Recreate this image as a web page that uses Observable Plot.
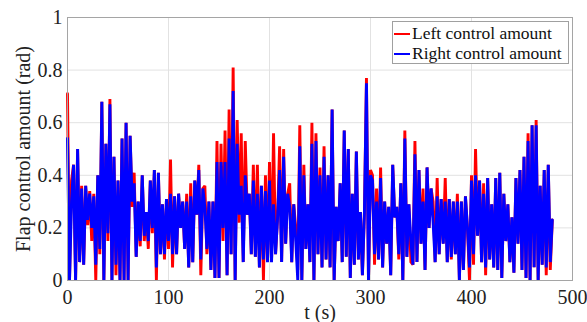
<!DOCTYPE html>
<html>
<head>
<meta charset="utf-8">
<script src="https://cdn.jsdelivr.net/npm/d3@7"></script>
<script src="https://cdn.jsdelivr.net/npm/@observablehq/plot@0.6"></script>
<style>
  html, body { margin: 0; padding: 0; background: #fff; }
  #wrap { position: relative; width: 587px; height: 322px; overflow: hidden; }
  #legend { position: absolute; left: 392px; top: 21px; width: 177px; height: 43px;
    border: 1px solid #a0a0a0; background: #fff; box-sizing: border-box;
    font-family: "Liberation Serif", "Times New Roman", serif; font-size: 17.5px; color: #111; }
  #legend .row { position: absolute; left: 1px; height: 20px; line-height: 20px; white-space: nowrap; }
  #legend .sw { display: inline-block; width: 16px; height: 0; border-top: 2.5px solid; vertical-align: middle; margin-right: 2px; position: relative; top: -1px; }
</style>
</head>
<body>
<div id="wrap">
  <div id="chart"></div>
  <div id="legend"></div>
</div>
<script>
// sampling step (s)
const dt = 2;
const seriesNames = ["Left control amount", "Right control amount"];
const seriesColors = ["#ff0000", "#0000ff"];
const xTicks = [0, 100, 200, 300, 400, 500];
const yTicks = [0, 0.2, 0.4, 0.6, 0.8, 1];
const yTickLabels = ["0", "0.2", "0.4", "0.6", "0.8", "1"];

// Right control amount (blue), t = 0..480 s
const rightAmount = [
  .54,.00,.30,.44,.00,.50,.07,.35,.06,.36,.23,.33,.20,.32,.06,.40,.12,.68,.00,.52,
  .18,.67,.00,.47,.06,.38,.00,.54,.00,.60,.00,.55,.30,.37,.09,.30,.15,.40,.17,.26,
  .15,.38,.20,.42,.05,.41,.10,.29,.10,.31,.15,.33,
  .10,.32,.10,.33,.20,.30,.12,.30,.05,.32,.07,.38,.25,.42,.08,.35,.28,.12,.30,.04,
  .30,.01,.45,.01,.45,.20,.45,.02,.54,.10,.72,.00,.52,.25,.36,.07,.40,.25,.33,.10,
  .38,.09,.33,.05,.36,.08,.34,.07,.38,
  .07,.29,.10,.24,.42,.07,.47,.14,.33,.28,.07,.29,.15,.00,.51,.00,.40,.12,.29,.07,
  .52,.00,.53,.10,.40,.05,.47,.08,.40,.05,.65,.00,.28,.15,.37,.07,.57,.09,.50,.01,
  .33,.06,.49,.08,.26,.02,.26,.75,.00,.40,
  .38,.10,.30,.08,.39,.05,.30,.14,.28,.02,.44,.24,.28,.10,.37,.00,.54,.09,.29,.15,
  .06,.48,.07,.42,.14,.30,.04,.43,.20,.35,.22,.07,.32,.10,.31,.14,.30,.07,.31,.09,
  .30,.10,.30,.00,.30,.04,.32,.20,.05,.38,
  .10,.40,.17,.38,.07,.33,.05,.39,.08,.29,.05,.39,.04,.41,.01,.33,.15,.29,.07,.24,
  .03,.39,.14,.42,.04,.47,.01,.53,.00,.59,.05,.59,.00,.36,.06,.42,.05,.44,.07,.23
];

// Left control amount (red), t = 0..480 s
const leftAmount = [
  .71,.00,.38,.44,.00,.50,.07,.36,.06,.36,.21,.34,.15,.33,.00,.40,.10,.68,.00,.52,
  .15,.69,.00,.47,.02,.38,.00,.54,.00,.60,.00,.55,.28,.41,.09,.30,.13,.40,.15,.26,
  .12,.38,.18,.42,.00,.41,.10,.29,.08,.31,.12,.46,
  .05,.32,.10,.33,.20,.30,.12,.33,.05,.37,.07,.38,.25,.44,.02,.35,.36,.10,.30,.04,
  .30,.01,.53,.01,.52,.15,.57,.02,.65,.10,.81,.00,.61,.22,.56,.07,.53,.25,.33,.10,
  .44,.09,.44,.05,.36,.00,.40,.07,.45,
  .07,.56,.10,.24,.51,.07,.50,.14,.33,.37,.07,.29,.20,.04,.59,.00,.44,.12,.29,.07,
  .60,.00,.56,.10,.43,.05,.51,.08,.40,.05,.65,.00,.28,.15,.37,.07,.57,.09,.50,.01,
  .33,.06,.49,.08,.26,.02,.26,.77,.00,.42,
  .40,.06,.35,.08,.43,.05,.30,.14,.28,.02,.44,.24,.28,.08,.37,.00,.57,.09,.29,.07,
  .06,.53,.07,.42,.14,.35,.04,.43,.20,.35,.30,.07,.39,.10,.31,.14,.39,.07,.31,.08,
  .30,.10,.33,.00,.30,.04,.32,.20,.00,.40,
  .06,.50,.17,.38,.07,.37,.02,.39,.08,.29,.05,.39,.04,.41,.01,.33,.15,.29,.07,.24,
  .03,.39,.14,.42,.04,.47,.01,.56,.00,.59,.05,.61,.00,.36,.06,.42,.02,.44,.04,.23
];

const rows = [];
leftAmount.forEach((v, i) => rows.push({t: i * dt, v, s: seriesNames[0]}));
rightAmount.forEach((v, i) => rows.push({t: i * dt, v, s: seriesNames[1]}));

const font = '"Liberation Serif", "Times New Roman", serif';

const chart = Plot.plot({
  width: 587,
  height: 322,
  marginLeft: 67,
  marginRight: 15,
  marginTop: 17,
  marginBottom: 42,
  style: {fontFamily: font, fontSize: "20px", background: "#fff", color: "#222", overflow: "visible"},
  x: {domain: [0, 500]},
  y: {domain: [0, 1]},
  color: {domain: seriesNames, range: seriesColors},
  marks: [
    Plot.gridX(xTicks, {stroke: "#e2e2e2", strokeOpacity: 1, strokeWidth: 1}),
    Plot.gridY(yTicks, {stroke: "#e2e2e2", strokeOpacity: 1, strokeWidth: 1}),
    Plot.lineY(rows.filter(d => d.s === seriesNames[0]), {x: "t", y: "v", stroke: "s", strokeWidth: 2.9, strokeLinejoin: "miter", strokeMiterlimit: 2}),
    Plot.lineY(rows.filter(d => d.s === seriesNames[1]), {x: "t", y: "v", stroke: "s", strokeWidth: 2.9, strokeLinejoin: "miter", strokeMiterlimit: 2}),
    Plot.frame({stroke: "#a5a5a5", strokeWidth: 1}),
    Plot.axisY({ticks: yTicks, tickFormat: (d, i) => yTickLabels[i], tickSize: 0, tickPadding: 5,
      label: "Flap control amount (rad)", labelAnchor: "center", labelArrow: "none", labelOffset: 52, fill: "#222"}),
    Plot.axisX({ticks: xTicks, tickFormat: d => String(d), tickSize: 0, tickPadding: 9,
      label: "t (s)", labelAnchor: "center", labelArrow: "none", labelOffset: 38, fill: "#222"})
  ]
});
document.getElementById("chart").appendChild(chart);

const legend = document.getElementById("legend");
seriesNames.forEach((name, i) => {
  const row = document.createElement("div");
  row.className = "row";
  row.style.top = (i === 0 ? 1 : 21) + "px";
  const sw = document.createElement("span");
  sw.className = "sw";
  sw.style.borderTopColor = seriesColors[i];
  row.appendChild(sw);
  row.appendChild(document.createTextNode(name));
  legend.appendChild(row);
});
</script>
</body>
</html>
